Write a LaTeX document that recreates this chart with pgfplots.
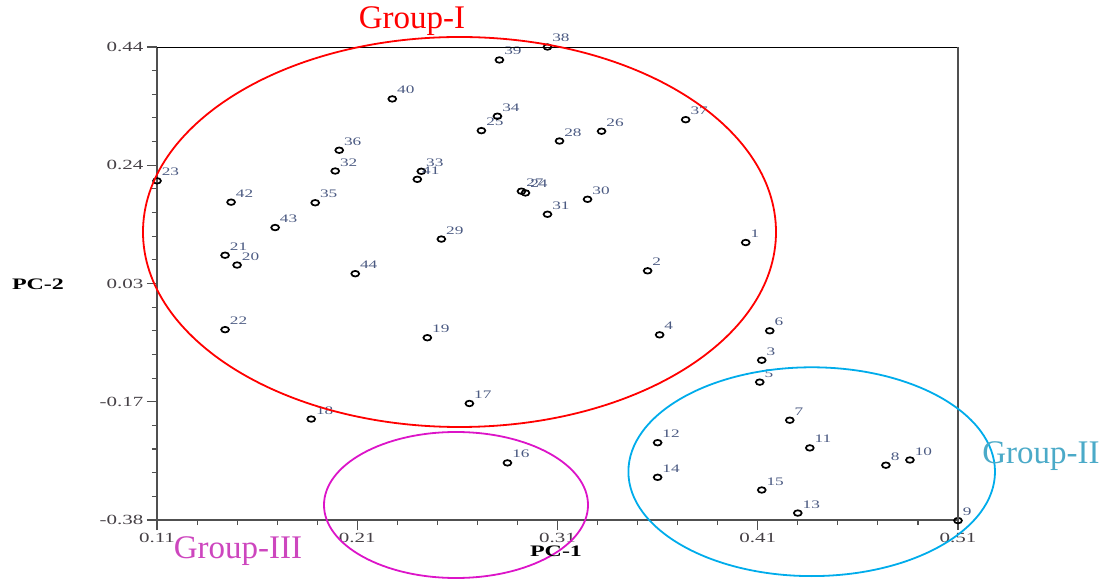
\documentclass[border=0pt]{standalone}
\usepackage{pgfplots}
\pgfplotsset{compat=1.18}
\usepackage{pgfplotstable}
\usepackage{fontspec}
\setmainfont{Liberation Serif}
\newfontfamily\stretchfont[FakeStretch=1.5]{Liberation Serif}

\definecolor{axisgray}{RGB}{80,80,80}
\definecolor{ticklab}{RGB}{70,65,70}
\definecolor{ptlab}{RGB}{75,90,130}
\definecolor{grpmag}{RGB}{220,20,200}
\definecolor{grpmagtxt}{RGB}{205,70,190}
\definecolor{grpcyan}{RGB}{0,172,235}
\definecolor{grpcyantxt}{RGB}{75,170,200}

\pgfplotstableread{
x y label
0.404 0.101 1
0.355 0.052 2
0.412 -0.103 3
0.361 -0.059 4
0.411 -0.141 5
0.416 -0.052 6
0.426 -0.207 7
0.474 -0.285 8
0.510 -0.381 9
0.486 -0.276 10
0.436 -0.255 11
0.360 -0.246 12
0.430 -0.368 13
0.360 -0.306 14
0.412 -0.328 15
0.285 -0.281 16
0.266 -0.178 17
0.187 -0.205 18
0.245 -0.064 19
0.150 0.062 20
0.144 0.079 21
0.144 -0.050 22
0.110 0.208 23
0.294 0.187 24
0.272 0.295 25
0.332 0.294 26
0.292 0.190 27
0.311 0.277 28
0.252 0.107 29
0.325 0.176 30
0.305 0.150 31
0.199 0.225 32
0.242 0.2245 33
0.280 0.320 34
0.189 0.170 35
0.201 0.261 36
0.374 0.314 37
0.305 0.440 38
0.281 0.4175 39
0.2275 0.350 40
0.240 0.2106 41
0.147 0.171 42
0.169 0.127 43
0.209 0.047 44
}\pcadata

\begin{document}
\begin{tikzpicture}
\useasboundingbox (-157pt,-58pt) rectangle (948pt,520pt);
\begin{axis}[
  at={(0pt,0pt)}, anchor=south west,
  scale only axis, width=801pt, height=473pt,
  clip=false,
  xmin=0.11, xmax=0.51, ymin=-0.38, ymax=0.44,
  axis lines*=left,
  axis line style={line width=1.8pt, color=axisgray},
  tick align=outside,
  major tick length=10pt, minor tick length=5pt,
  tick style={axisgray, line width=1.1pt},
  xtick={0.11,0.21,0.31,0.41,0.51},
  xticklabels={0.11,0.21,0.31,0.41,0.51},
  ytick={-0.38,-0.175,0.03,0.235,0.44},
  yticklabels={-0.38,-0.17,0.03,0.24,0.44},
  minor x tick num=4, minor y tick num=4,
  ticklabel style={font=\stretchfont\fontsize{14}{16}\selectfont, text=ticklab},
]
\addplot[only marks, mark=o, mark size=2.8pt,
  mark options={xscale=1.4, line width=1.7pt, black},
  point meta=explicit symbolic,
  nodes near coords,
  nodes near coords style={anchor=base west, inner sep=0pt, xshift=4pt, yshift=5pt,
    font=\stretchfont\fontsize{11.5}{13}\selectfont, text=ptlab}]
  table[x=x, y=y, meta=label] {\pcadata};
\end{axis}
\draw[black, line width=0.8pt] (0pt,473pt) -- (801pt,473pt);
\draw[axisgray, line width=1.4pt] (801pt,0pt) -- (801pt,473pt);
% group ellipses
\draw[red, line width=1.8pt] (302.5pt,288pt) ellipse [x radius=316.5pt, y radius=195pt];
\draw[grpmag, line width=1.8pt] (299pt,15pt) ellipse [x radius=132pt, y radius=73pt];
\draw[grpcyan, line width=1.8pt] (654.7pt,48.3pt) ellipse [x radius=183.3pt, y radius=104.4pt];
% labels
\node[text=red, font=\fontsize{33}{36}\selectfont] at (255pt,499pt) {Group-I};
\node[text=grpcyantxt, font=\fontsize{33}{36}\selectfont] at (884pt,64pt) {Group-II};
\node[text=grpmagtxt, font=\fontsize{33}{36}\selectfont] at (81pt,-31pt) {Group-III};
\node[font=\stretchfont\bfseries\fontsize{16}{18}\selectfont] at (399pt,-31pt) {PC-1};
\node[font=\stretchfont\bfseries\fontsize{16}{18}\selectfont] at (-119pt,236pt) {PC-2};
\end{tikzpicture}
\end{document}
